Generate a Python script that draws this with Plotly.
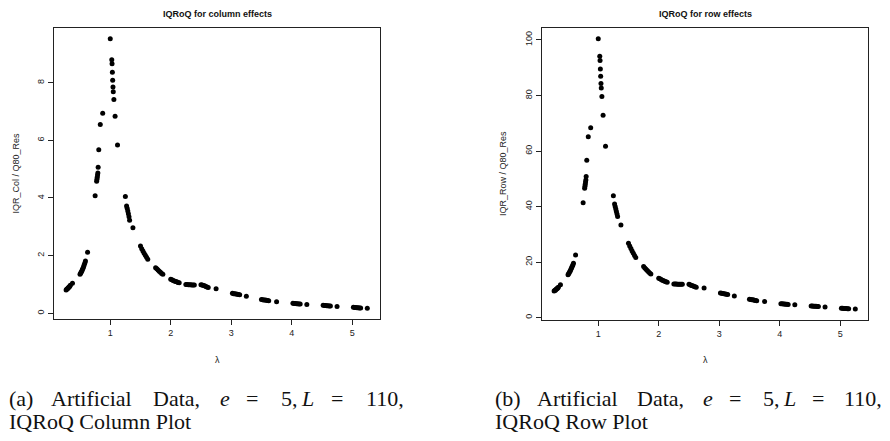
import plotly.graph_objects as go

# browser window is 890x441; the page body has an 8 px margin
WIN_W, WIN_H = 890, 441
OFF = 8
W, H = WIN_W - 2 * OFF, WIN_H - 2 * OFF

# ---- data ----
lam = [0.27, 0.28, 0.29, 0.30, 0.31, 0.32, 0.33, 0.34,
       0.375,
       0.50, 0.51, 0.52, 0.53, 0.54, 0.55, 0.56, 0.57, 0.58, 0.59,
       0.625, 0.75,
       0.775, 0.78, 0.785, 0.79, 0.795,
       0.80, 0.81, 0.835, 0.875,
       1.0, 1.025, 1.03, 1.035, 1.04, 1.045, 1.05, 1.06, 1.08, 1.12,
       1.25,
       1.27, 1.28, 1.29, 1.30, 1.31, 1.32,
       1.375,
       1.50, 1.52, 1.54, 1.56, 1.58, 1.60, 1.62,
       1.75, 1.77, 1.79, 1.81, 1.83, 1.85, 1.87,
       2.00, 2.02, 2.04, 2.06, 2.08, 2.10, 2.12, 2.14,
       2.25, 2.27, 2.29, 2.31, 2.33, 2.35, 2.37, 2.39,
       2.50, 2.52, 2.54, 2.56, 2.58, 2.60, 2.62,
       2.75,
       3.02, 3.04, 3.06, 3.08, 3.10, 3.12, 3.14,
       3.25,
       3.50, 3.52, 3.54, 3.56, 3.58, 3.60, 3.62,
       3.75,
       4.02, 4.04, 4.06, 4.08, 4.10, 4.12, 4.14,
       4.25,
       4.52, 4.54, 4.56, 4.58, 4.60, 4.62, 4.64,
       4.75,
       5.02, 5.04, 5.06, 5.08, 5.10, 5.12, 5.14,
       5.25]

iqr_col = [0.81, 0.83, 0.85, 0.87, 0.89, 0.91, 0.94, 0.97,
           1.04,
           1.35, 1.39, 1.43, 1.47, 1.52, 1.56, 1.62, 1.68, 1.74, 1.81,
           2.12, 4.08,
           4.58, 4.65, 4.72, 4.80, 4.87,
           5.07, 5.67, 6.55, 6.94,
           9.53, 8.80, 8.66, 8.36, 8.09, 7.85, 7.69, 7.42, 6.84, 5.84,
           4.05,
           3.72, 3.64, 3.55, 3.45, 3.35, 3.23,
           2.97,
           2.33, 2.24, 2.16, 2.08, 2.01, 1.94, 1.87,
           1.58, 1.54, 1.50, 1.46, 1.42, 1.38, 1.35,
           1.18, 1.16, 1.14, 1.12, 1.10, 1.09, 1.07, 1.06,
           1.00, 1.00, 0.99, 0.99, 0.99, 0.98, 0.98, 0.98,
           0.99, 0.98, 0.96, 0.95, 0.93, 0.91, 0.89,
           0.85,
           0.69, 0.68, 0.68, 0.67, 0.66, 0.65, 0.64,
           0.59,
           0.48, 0.47, 0.46, 0.46, 0.45, 0.44, 0.43,
           0.40,
           0.35, 0.34, 0.34, 0.33, 0.33, 0.32, 0.32,
           0.30,
           0.28, 0.27, 0.27, 0.26, 0.26, 0.25, 0.25,
           0.23,
           0.21, 0.20, 0.20, 0.19, 0.19, 0.18, 0.18,
           0.17]

iqr_row = [9.6, 9.8, 9.9, 10.1, 10.3, 10.5, 10.7, 10.9,
           11.8,
           15.4, 15.8, 16.2, 16.6, 17.0, 17.5, 18.0, 18.5, 19.0, 19.6,
           22.6, 41.4,
           46.6, 47.3, 48.0, 48.8, 49.6,
           50.8, 56.7, 65.1, 68.4,
           100.4, 94.1, 92.6, 89.5, 86.9, 84.3, 82.7, 79.6, 72.9, 61.7,
           43.9,
           40.9, 40.0, 39.1, 38.2, 37.3, 36.4,
           33.4,
           26.8, 25.8, 24.9, 24.0, 23.2, 22.4, 21.7,
           18.4, 17.9, 17.4, 17.0, 16.5, 16.1, 15.7,
           14.2, 14.0, 13.7, 13.5, 13.3, 13.1, 12.9, 12.7,
           12.1, 12.1, 12.1, 12.0, 12.0, 12.0, 12.0, 12.0,
           12.0, 11.8, 11.6, 11.5, 11.3, 11.1, 10.9,
           10.7,
           8.9, 8.8, 8.7, 8.6, 8.5, 8.4, 8.3,
           7.8,
           6.6, 6.5, 6.4, 6.4, 6.3, 6.2, 6.1,
           5.8,
           5.0, 5.0, 4.9, 4.9, 4.8, 4.8, 4.7,
           4.6,
           4.2, 4.2, 4.1, 4.1, 4.1, 4.0, 4.0,
           3.8,
           3.4, 3.4, 3.3, 3.3, 3.3, 3.2, 3.2,
           3.1]

x_ticks = [1, 2, 3, 4, 5]
y_ticks_col = [0, 2, 4, 6, 8]
y_ticks_row = [0, 20, 40, 60, 80, 100]

titles = ["IQRoQ for column effects", "IQRoQ for row effects"]
y_titles = ["IQR_Col / Q80_Res", "IQR_Row / Q80_Res"]
x_title = "λ"
caption_line1 = [["(a)", "Artificial", "Data,", "<i>e</i>", "=", "5,", "<i>L</i>", "=", "110,"],
                 ["(b)", "Artificial", "Data,", "<i>e</i>", "=", "5,", "<i>L</i>", "=", "110,"]]
caption_line2 = ["IQRoQ Column Plot", "IQRoQ Row Plot"]

# ---- layout helpers (window pixel -> paper) ----
def px(x):
    return (x - OFF) / W

def py(y):
    return 1 - (y - OFF) / H

SANS = "Liberation Sans, Arial, sans-serif"
SERIF = "Liberation Serif, Times New Roman, serif"
AX = "#222222"
LW = 1.2

fig = go.Figure()
fig.add_trace(go.Scatter(x=lam, y=iqr_col, mode="markers",
                         marker=dict(color="black", size=5, line=dict(width=0)),
                         xaxis="x", yaxis="y", showlegend=False))
fig.add_trace(go.Scatter(x=lam, y=iqr_row, mode="markers",
                         marker=dict(color="black", size=5, line=dict(width=0)),
                         xaxis="x2", yaxis="y2", showlegend=False))

panels = [dict(x0=54, x1=380, y0=28, y1=319), dict(x0=542, x1=868, y0=28, y1=320)]


def xaxis_cfg(p, anchor):
    return dict(domain=[px(p["x0"]), px(p["x1"])], anchor=anchor,
                range=[0.07, 5.46], tickvals=x_ticks, ticktext=[str(t) for t in x_ticks],
                showline=True, mirror=True, linecolor=AX, linewidth=LW,
                ticks="outside", ticklen=5, tickcolor=AX, tickwidth=LW,
                showgrid=False, zeroline=False,
                tickfont=dict(family=SANS, size=9, color="#222"))


def yaxis_cfg(p, anchor, rng, tv):
    return dict(domain=[py(p["y1"]), py(p["y0"])], anchor=anchor,
                range=rng, tickvals=tv, ticktext=[str(t) for t in tv],
                showline=True, mirror=True, linecolor=AX, linewidth=LW,
                ticks="outside", ticklen=5, tickcolor=AX, tickwidth=LW,
                showgrid=False, zeroline=False, tickangle=-90,
                tickfont=dict(family=SANS, size=9, color="#222"))


fig.update_layout(
    width=W, height=H,
    margin=dict(l=0, r=0, t=0, b=0),
    paper_bgcolor="white", plot_bgcolor="white",
    xaxis=xaxis_cfg(panels[0], "y"),
    yaxis=yaxis_cfg(panels[0], "x", [-0.2, 9.9], y_ticks_col),
    xaxis2=xaxis_cfg(panels[1], "y2"),
    yaxis2=yaxis_cfg(panels[1], "x2", [-0.85, 104.3], y_ticks_row),
)

ann = []
for i, p in enumerate(panels):
    cx = (p["x0"] + p["x1"]) / 2
    cy = (p["y0"] + p["y1"]) / 2
    ann.append(dict(text="<b>" + titles[i] + "</b>", x=px(cx), y=py(14), xref="paper", yref="paper",
                    showarrow=False, xanchor="center", yanchor="middle",
                    font=dict(family=SANS, size=9, color="#111")))
    ann.append(dict(text=x_title, x=px(cx), y=py(360), xref="paper", yref="paper",
                    showarrow=False, xanchor="center", yanchor="middle",
                    font=dict(family=SANS, size=9, color="#222")))
    ann.append(dict(text=y_titles[i], x=px(p["x0"] - 39), y=py(cy), xref="paper", yref="paper",
                    showarrow=False, xanchor="center", yanchor="middle", textangle=-90,
                    font=dict(family=SANS, size=9, color="#222")))

cap_x = [[8, 50, 152, 219, 245, 280, 300, 330, 365],
         [494, 536, 636, 702, 728, 762, 782, 811, 843]]
for i in range(2):
    for word, xx in zip(caption_line1[i], cap_x[i]):
        ann.append(dict(text=word, x=px(xx), y=py(398), xref="paper", yref="paper",
                        showarrow=False, xanchor="left", yanchor="middle", borderpad=0,
                        font=dict(family=SERIF, size=22, color="#111")))
    ann.append(dict(text=caption_line2[i], x=px(cap_x[i][0]), y=py(421), xref="paper", yref="paper",
                    showarrow=False, xanchor="left", yanchor="middle", borderpad=0,
                    font=dict(family=SERIF, size=22, color="#111")))

fig.update_layout(annotations=ann)
fig.write_html("out.html")
